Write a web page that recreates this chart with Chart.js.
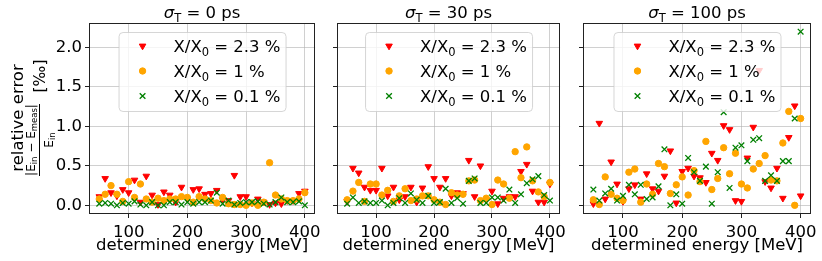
<!DOCTYPE html>
<html>
<head>
<meta charset="utf-8">
<script src="https://cdn.jsdelivr.net/npm/chart.js@4.4.0/dist/chart.umd.min.js"></script>
<style>
  body { margin: 0; background: #fff; width: 822px; height: 261px; overflow: hidden; position: relative; }
  canvas { position: absolute; top: 0; }
</style>
</head>
<body>
<canvas id="c0" width="326" height="261" style="left:0px"></canvas>
<canvas id="c1" width="245" height="261" style="left:326px"></canvas>
<canvas id="c2" width="251" height="261" style="left:571px"></canvas>
<script>
// determined energies [MeV]
const energies = [50, 60, 70, 80, 90, 100, 110, 120, 130, 140, 150, 160, 170, 180, 190, 200, 210, 220,
                  230, 240, 250, 260, 270, 280, 290, 300, 310, 320, 330, 340, 350, 360, 370, 380, 390, 400];

const timeRes = ['0', '30', '100'];  // sigma_T in ps
const thickness = ['2.3', '1', '0.1']; // X/X0 in %

// sigma_T = 0 ps
const red0 = [0.11, 0.34, 0.16, 0.12, 0.20, 0.16, 0.32, 0.04, 0.37, 0.13, 0.01, 0.17, 0.13, 0.04, 0.23, 0.08, 0.20, 0.21,
              0.14, 0.15, 0.19, 0.07, 0.06, 0.38, 0.11, 0.11, 0.03, 0.08, 0.04, 0.01, 0.03, 0.02, 0.06, 0.06, 0.15, 0.18];
const orange0 = [0.08, 0.14, 0.25, 0.14, 0.05, 0.30, 0.10, 0.27, 0.08, 0.04, 0.09, 0.06, 0.08, 0.08, 0.11, 0.10, 0.04, 0.11,
                 0.08, 0.06, 0.03, 0.10, 0.02, 0.01, 0.01, 0.00, 0.03, 0.00, 0.04, 0.54, 0.13, 0.08, 0.06, 0.06, 0.08, 0.16];
const green0 = [0.02, 0.03, 0.02, 0.00, 0.03, 0.02, 0.05, 0.01, 0.00, 0.04, 0.00, 0.00, 0.04, 0.04, 0.01, 0.04, 0.02, 0.04,
                0.04, 0.06, 0.16, 0.02, 0.06, 0.01, 0.03, 0.04, 0.04, 0.05, 0.02, 0.01, 0.04, 0.10, 0.04, 0.04, 0.05, 0.00];

// sigma_T = 30 ps
const red30 = [0.05, 0.47, 0.41, 0.23, 0.19, 0.19, 0.47, 0.12, 0.23, 0.07, 0.11, 0.23, 0.04, 0.22, 0.49, 0.34, 0.23, 0.34,
               0.12, 0.16, 0.15, 0.57, 0.11, 0.50, 0.07, 0.18, 0.02, 0.09, 0.11, 0.11, 0.43, 0.52, 0.18, 0.04, 0.04, 0.27];
const orange30 = [0.07, 0.18, 0.29, 0.05, 0.27, 0.27, 0.13, 0.19, 0.05, 0.12, 0.21, 0.06, 0.08, 0.12, 0.12, 0.07, 0.04, 0.01,
                  0.16, 0.13, 0.14, 0.31, 0.32, 0.06, 0.09, 0.01, 0.32, 0.27, 0.09, 0.68, 0.35, 0.74, 0.31, 0.17, 0.11, 0.29];
const green30 = [0.02, 0.10, 0.03, 0.05, 0.03, 0.03, 0.06, 0.00, 0.03, 0.09, 0.03, 0.15, 0.07, 0.03, 0.12, 0.03, 0.04, 0.21,
                 0.03, 0.09, 0.02, 0.31, 0.34, 0.03, 0.03, 0.10, 0.10, 0.06, 0.20, 0.03, 0.14, 0.28, 0.33, 0.37, 0.13, 0.06];

// sigma_T = 100 ps
const red100 = [0.02, 1.04, 0.08, 0.55, 0.27, 0.05, 0.21, 0.26, 0.08, 0.40, 0.21, 0.18, 0.37, 0.69, 0.03, 0.43, 0.47, 0.37,
                0.35, 0.29, 0.66, 0.57, 1.01, 0.96, 0.06, 0.05, 0.60, 0.99, 1.71, 0.30, 0.22, 0.47, 0.09, 0.86, 1.26, 0.12];
const orange100 = [0.07, 0.01, 0.36, 0.14, 0.09, 0.06, 0.42, 0.46, 0.04, 0.27, 0.14, 0.53, 0.49, 0.15, 0.26, 0.36, 0.13, 0.44,
                   0.30, 0.81, 0.20, 0.34, 0.73, 0.40, 0.66, 0.27, 0.22, 0.46, 0.53, 0.63, 0.32, 0.31, 0.79, 1.19, 0.00, 1.10];
const green100 = [0.20, 0.06, 0.15, 0.21, 0.06, 0.12, 0.26, 0.14, 0.26, 0.08, 0.10, 0.24, 0.71, 0.00, 0.14, 0.02, 0.60, 0.42,
                  0.31, 0.49, 0.02, 0.42, 1.18, 0.22, 0.73, 0.76, 0.56, 0.83, 0.85, 0.31, 0.38, 0.31, 0.56, 0.56, 1.10, 2.20];

const xTicks = [100, 200, 300, 400];
const yTicks = [0.0, 0.5, 1.0, 1.5, 2.0];

const FONT = 'DejaVu Sans';
Chart.defaults.font.family = FONT;
Chart.defaults.color = '#000';

const markers = [
  { color: '#ff0000', style: 'triangle', radius: 3.8, rotation: 180, borderWidth: 1 },
  { color: '#ffa500', style: 'circle', radius: 3.2, rotation: 0, borderWidth: 1 },
  { color: '#008000', style: 'crossRot', radius: 4.0, rotation: 0, borderWidth: 1.3 }
];

// draw a row of text pieces (for subscripts), starting at x or centred on x
function drawRuns(ctx, runs, x, y, centred) {
  let total = 0;
  runs.forEach(r => {
    ctx.font = (r.italic ? 'italic ' : '') + r.size + 'px "' + FONT + '"';
    r.w = ctx.measureText(r.t).width;
    total += r.w;
  });
  let cx = centred ? x - total / 2 : x;
  runs.forEach(r => {
    ctx.font = (r.italic ? 'italic ' : '') + r.size + 'px "' + FONT + '"';
    ctx.fillText(r.t, cx, y + (r.dy || 0));
    cx += r.w;
  });
}

// titles, box, legend and y label drawn on top of the data
const decor = {
  id: 'decor',
  afterDatasetsDraw(chart, args, opts) {
    const ctx = chart.ctx;
    const a = chart.chartArea;
    ctx.save();
    ctx.fillStyle = '#000';
    ctx.textAlign = 'left';
    ctx.textBaseline = 'alphabetic';

    // frame
    ctx.strokeStyle = '#222';
    ctx.lineWidth = 1;
    ctx.strokeRect(Math.round(a.left) + 0.5, Math.round(a.top) + 0.5, Math.round(a.right - a.left) - 1, Math.round(a.bottom - a.top) - 1);

    const mid = (a.left + a.right) / 2;
    // panel title
    drawRuns(ctx, [
      { t: 'σ', size: 16.5, italic: true },
      { t: 'T', size: 11.5, dy: 3.5 },
      { t: ' = ' + opts.sigma + ' ps', size: 16.5 }
    ], mid, 18, true);

    // x title
    drawRuns(ctx, [{ t: 'determined energy [MeV]', size: 16.5 }], mid, 250, true);

    // legend
    const bw = 167, bh = 79;
    const bx = mid - bw / 2, by = a.top + 9;
    ctx.beginPath();
    ctx.roundRect(bx + 0.5, by + 0.5, bw, bh, 4);
    ctx.fillStyle = 'rgba(255,255,255,0.8)';
    ctx.fill();
    ctx.strokeStyle = 'rgba(204,204,204,0.8)';
    ctx.stroke();
    markers.forEach((m, i) => {
      const ry = by + 14 + i * 25;
      ctx.fillStyle = m.color;
      ctx.strokeStyle = m.color;
      ctx.lineWidth = m.borderWidth;
      Chart.helpers.drawPoint(ctx, { pointStyle: m.style, radius: m.radius, rotation: m.rotation, borderWidth: m.borderWidth }, bx + 24, ry);
      ctx.fillStyle = '#000';
      drawRuns(ctx, [
        { t: 'X/X', size: 16.5 },
        { t: '0', size: 11.5, dy: 3.5 },
        { t: ' = ' + thickness[i] + ' %', size: 16.5 }
      ], bx + 55, ry + 6, false);
    });

    // y label on the first panel only
    if (opts.yLabel) {
      ctx.fillStyle = '#000';
      const rot = (x, y, fn) => { ctx.save(); ctx.translate(x, y); ctx.rotate(-Math.PI / 2); fn(); ctx.restore(); };
      rot(22.5, 118, () => drawRuns(ctx, [{ t: 'relative error', size: 16.5 }], 0, 0, true));
      rot(35, 140, () => drawRuns(ctx, [
        { t: '|E', size: 12 }, { t: 'in', size: 8.5, dy: 2 },
        { t: ' − E', size: 12 }, { t: 'meas', size: 8.5, dy: 2 },
        { t: '|', size: 12 }
      ], 0, 0, true));
      rot(53, 140, () => drawRuns(ctx, [{ t: 'E', size: 12 }, { t: 'in', size: 8.5, dy: 2 }], 0, 0, true));
      ctx.fillRect(39, 104, 1, 72);
      rot(45, 76, () => drawRuns(ctx, [{ t: '[‰]', size: 15.5 }], 0, 0, true));
    }
    ctx.restore();
  }
};

function makePanel(id, sigma, series, yWidth, padRight, yLabel) {
  const datasets = series.map((vals, k) => ({
    label: 'X/X0 = ' + thickness[k] + ' %',
    data: energies.map((e, i) => ({ x: e, y: vals[i] })),
    pointStyle: markers[k].style,
    pointRadius: markers[k].radius,
    pointRotation: markers[k].rotation,
    pointBorderWidth: markers[k].borderWidth,
    backgroundColor: markers[k].color,
    borderColor: markers[k].color,
    showLine: false,
    order: 3 - k
  }));

  return new Chart(document.getElementById(id), {
    type: 'scatter',
    data: { datasets },
    plugins: [decor],
    options: {
      responsive: false,
      animation: false,
      events: [],
      layout: { padding: { left: 0, right: padRight, top: 23, bottom: 0 } },
      plugins: {
        legend: { display: false },
        tooltip: { enabled: false },
        decor: { sigma, yLabel }
      },
      scales: {
        x: {
          type: 'linear', min: 32.5, max: 417.5,
          border: { display: false },
          grid: { color: 'rgba(176,176,176,0.6)', lineWidth: 1, tickColor: '#222', tickLength: 4 },
          ticks: {
            stepSize: 100, includeBounds: false, padding: 5, maxRotation: 0,
            font: { size: 16.5 }, color: '#000',
            callback: v => xTicks.includes(v) ? String(v) : ''
          },
          afterFit: s => { s.height = 47; }
        },
        y: {
          type: 'linear', min: -0.11, max: 2.31,
          border: { display: false },
          grid: { color: 'rgba(176,176,176,0.6)', lineWidth: 1, tickColor: '#222', tickLength: 4 },
          ticks: {
            display: yLabel, stepSize: 0.5, includeBounds: false, padding: 3,
            font: { size: 16.5 }, color: '#000',
            callback: v => yTicks.includes(v) ? v.toFixed(1) : ''
          },
          afterFit: s => { s.width = yWidth; }
        }
      }
    }
  });
}

makePanel('c0', timeRes[0], [red0, orange0, green0], 89, 9, true);
makePanel('c1', timeRes[1], [red30, orange30, green30], 11, 7, false);
makePanel('c2', timeRes[2], [red100, orange100, green100], 12, 11, false);
</script>
</body>
</html>
